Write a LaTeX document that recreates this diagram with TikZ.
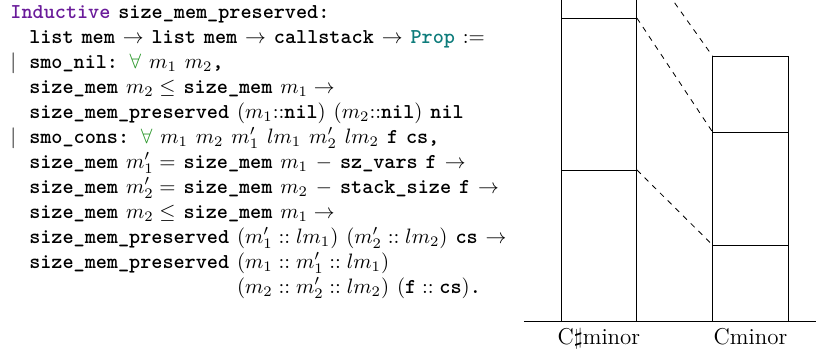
\documentclass[tikz,border=0pt]{standalone}
\usepackage{tikz}
\usetikzlibrary{positioning}
\usepackage{xcolor}

\definecolor{kwpurple}{RGB}{106,27,154}
\definecolor{propteal}{RGB}{14,124,123}
\definecolor{allgreen}{RGB}{40,150,40}

\newlength{\codeind}
\setlength{\codeind}{9pt}
\newcommand{\altbar}{\makebox[\codeind][l]{$|$}}
\newcommand{\indt}{\hspace*{\codeind}}
\newcommand{\fa}{$\textcolor{allgreen}{\forall}$}
\newcommand{\codefont}{\ttfamily\bfseries\fontsize{10.15}{12}\selectfont\spaceskip=3.8pt plus 1.6pt minus 1.1pt\relax}

\begin{document}
\begin{tikzpicture}[%
        frame/.style={draw, rectangle, minimum width=1.28cm, inner sep=0pt, outer sep=0pt},
        lbl/.style={font=\fontsize{11}{13}\selectfont, text height=7.6pt, text depth=2pt},
        link/.style={dashed, dash pattern=on 2.6pt off 2.6pt},
        node distance=0pt
      ]
      \useasboundingbox (0,0) rectangle (13.76,5.935);
      \clip (0,0) rectangle (13.76,5.935);
      % the definition
      \node (code) [anchor=north west, align=left, inner sep=0pt, font=\codefont] at (0.17,5.85) {%
        \textcolor{kwpurple}{Inductive} size\_mem\_preserved:\\
        \indt list mem $\to$ list mem $\to$ callstack $\to$ \textcolor{propteal}{Prop} $:=$\\
        \altbar smo\_nil: \fa{} $m_1$ $m_2$,\\
        \indt size\_mem $m_2 \le$ size\_mem $m_1 \to$\\
        \indt size\_mem\_preserved $(m_1{::}$nil$)$ $(m_2{::}$nil$)$ nil\\
        \altbar smo\_cons: \fa{} $m_1$ $m_2$ $m'_1$ $lm_1$ $m'_2$ $lm_2$ f cs,\\
        \indt size\_mem $m'_1 =$ size\_mem $m_1$ $-$ sz\_vars f $\to$\\
        \indt size\_mem $m'_2 =$ size\_mem $m_2$ $-$ stack\_size f $\to$\\
        \indt size\_mem $m_2 \le$ size\_mem $m_1 \to$\\
        \indt size\_mem\_preserved $(m'_1 :: lm_1)$ $(m'_2 :: lm_2)$ cs $\to$\\
        \indt size\_mem\_preserved $(m_1 :: m'_1 :: lm_1)$\\
        \indt\phantom{size\_mem\_preserved }$(m_2 :: m'_2 :: lm_2)$ $(\mbox{f} :: \mbox{cs})$.};
      % ground line
      \coordinate (g0) at (8.835,0.523);
      \coordinate (g1) at (13.76,0.523);
      \draw (g0) -- (g1);
      % C#minor stack
      \node (s1) [frame, minimum height=2.546cm, anchor=south] at (10.1,0.523) {};
      \node (s2) [frame, minimum height=2.562cm, above=of s1] {};
      \node (s3) [frame, minimum height=1.149cm, above=of s2] {};
      \node (s4) [frame, minimum height=1.5cm, above=of s3] {};
      % Cminor stack
      \node (c1) [frame, minimum height=1.281cm, anchor=south] at (12.655,0.523) {};
      \node (c2) [frame, minimum height=1.905cm, above=of c1] {};
      \node (c3) [frame, minimum height=1.281cm, above=of c2] {};
      \draw[link] (s1.north east) -- (c1.north west);
      \draw[link] (s2.north east) -- (c2.north west);
      \draw[link] (s3.north east) -- (c3.north west);
      \node (ls) [lbl, below=0pt of s1.south] {C$\sharp$minor};
      \node (lc) [lbl, below=0pt of c1.south] {Cminor};
    \end{tikzpicture}
\end{document}
